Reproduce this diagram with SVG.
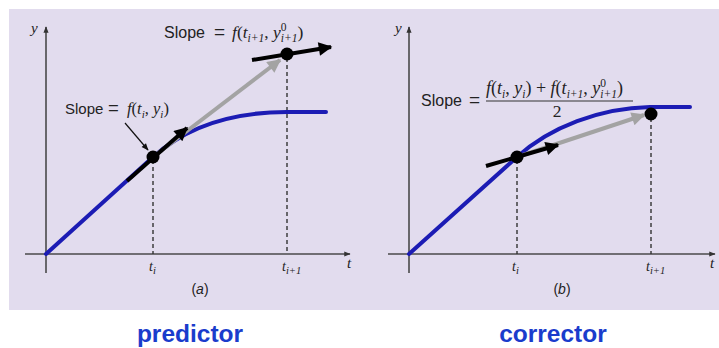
<svg xmlns="http://www.w3.org/2000/svg" width="719" height="348" viewBox="0 0 719 348">
<defs>
<style>
.axis{stroke:#4a4a4a;stroke-width:1.6;fill:none}
.curve{stroke:#1c1cb4;stroke-width:4;fill:none;stroke-linecap:round}
.tan{stroke:#000;stroke-width:4;fill:none}
.gray{stroke:#a3a3a3;stroke-width:4;fill:none}
.dash{stroke:#333;stroke-width:1.4;stroke-dasharray:4,3;fill:none}
.sans{font-family:"Liberation Sans",Arial,sans-serif;fill:#222}
.ser{font-family:"Liberation Serif","Times New Roman",serif;fill:#222}
.it{font-style:italic}
.big{font-family:"Liberation Sans",Arial,sans-serif;font-weight:bold;font-size:24.5px;fill:#1a3ccc}
</style>
<marker id="ab" viewBox="0 0 10 10" refX="9" refY="5" markerWidth="4.2" markerHeight="3.4" orient="auto" markerUnits="strokeWidth"><path d="M0,0 L10,5 L0,10 z" fill="#000"/></marker>
<marker id="ag" viewBox="0 0 10 10" refX="9" refY="5" markerWidth="4.2" markerHeight="3.4" orient="auto" markerUnits="strokeWidth"><path d="M0,0 L10,5 L0,10 z" fill="#a3a3a3"/></marker>
<marker id="ax" viewBox="0 0 10 10" refX="9" refY="5" markerWidth="5" markerHeight="4" orient="auto" markerUnits="strokeWidth"><path d="M0,1 L10,5 L0,9 z" fill="#333"/></marker>
<marker id="as" viewBox="0 0 10 10" refX="9" refY="5" markerWidth="7" markerHeight="6" orient="auto" markerUnits="strokeWidth"><path d="M0,1 L10,5 L0,9 z" fill="#111"/></marker>
</defs>
<rect x="9" y="9" width="710" height="301" fill="#e2dcee"/>

<g id="panel-a">
<g id="axes-a">
<line class="axis" x1="46" y1="273" x2="46" y2="27" marker-end="url(#ax)"/>
<line class="axis" x1="25" y1="254" x2="350" y2="254" marker-end="url(#ax)"/>
<text class="ser it" x="31" y="33" font-size="15">y</text>
<text class="ser it" x="347" y="268" font-size="15">t</text>
<text class="ser it" x="149" y="271" font-size="14">t<tspan font-size="10.5" dy="3">i</tspan></text>
<text class="ser it" x="282" y="271" font-size="14">t<tspan font-size="10.5" dy="3">i+1</tspan></text>
<text class="sans" x="200" y="294" font-size="14" text-anchor="middle">(<tspan class="it">a</tspan>)</text>
</g>
<g id="connectors-a">
<line class="dash" x1="153" y1="160" x2="153" y2="254"/>
<line class="dash" x1="287" y1="58" x2="287" y2="254"/>
<path class="curve" d="M46,254 L153,157 C185,128 230,112 287,112 L326,112"/>
<line class="gray" x1="153" y1="157" x2="280" y2="60" marker-end="url(#ag)"/>
<line class="tan" x1="127" y1="181" x2="187" y2="128" marker-end="url(#ab)"/>
<line class="tan" x1="252" y1="60" x2="331" y2="47" marker-end="url(#ab)"/>
<line stroke="#111" stroke-width="1.2" x1="125" y1="123" x2="148" y2="150" marker-end="url(#as)"/>
</g>
<g id="point-a1"><circle cx="153" cy="157" r="6.5" fill="#000"/></g>
<g id="point-a2"><circle cx="287" cy="54" r="6.5" fill="#000"/></g>
<g id="label-a1">
<text class="sans" x="65" y="114" font-size="15">Slope</text>
<text class="sans" x="108" y="114" font-size="18.5">=</text>
<text class="ser" x="127" y="114" font-size="16.5"><tspan class="it">f</tspan>(<tspan class="it">t</tspan><tspan class="it" font-size="11" dy="3.5">i</tspan><tspan dy="-3.5">, </tspan><tspan class="it">y</tspan><tspan class="it" font-size="11" dy="3.5">i</tspan><tspan dy="-3.5">)</tspan></text>
</g>
<g id="label-a2">
<text class="sans" x="164" y="38" font-size="16">Slope</text>
<text class="sans" x="214" y="38" font-size="19">=</text>
<text class="ser" x="232" y="38" font-size="17.5"><tspan class="it">f</tspan>(<tspan class="it">t</tspan><tspan class="it" font-size="11.5" dy="4">i+1</tspan><tspan dy="-4">, </tspan><tspan class="it">y</tspan><tspan font-size="11.5" dy="-7">0</tspan><tspan class="it" font-size="11.5" dx="-5.8" dy="11">i+1</tspan><tspan dy="-4">)</tspan></text>
</g>
</g>

<g id="panel-b">
<g id="axes-b">
<line class="axis" x1="409" y1="273" x2="409" y2="27" marker-end="url(#ax)"/>
<line class="axis" x1="388" y1="254" x2="715" y2="254" marker-end="url(#ax)"/>
<text class="ser it" x="395" y="33" font-size="15">y</text>
<text class="ser it" x="710" y="268" font-size="15">t</text>
<text class="ser it" x="512" y="271" font-size="14">t<tspan font-size="10.5" dy="3">i</tspan></text>
<text class="ser it" x="646" y="271" font-size="14">t<tspan font-size="10.5" dy="3">i+1</tspan></text>
<text class="sans" x="562" y="294" font-size="14" text-anchor="middle">(<tspan class="it">b</tspan>)</text>
</g>
<g id="connectors-b">
<line class="dash" x1="517" y1="160" x2="517" y2="254"/>
<line class="dash" x1="651" y1="118" x2="651" y2="254"/>
<path class="curve" d="M409,254 L517,157 C550,127 600,108 650,107 L690,107"/>
<line class="gray" x1="517" y1="157" x2="644" y2="115" marker-end="url(#ag)"/>
<line class="tan" x1="486" y1="166" x2="558" y2="145" marker-end="url(#ab)"/>
</g>
<g id="point-b1"><circle cx="517" cy="157" r="6.5" fill="#000"/></g>
<g id="point-b2"><circle cx="651" cy="114" r="6.5" fill="#000"/></g>
<g id="label-b">
<text class="sans" x="421" y="106" font-size="16">Slope</text>
<text class="sans" x="469" y="106" font-size="19">=</text>
<text class="ser" x="486" y="94" font-size="18"><tspan class="it">f</tspan>(<tspan class="it">t</tspan><tspan class="it" font-size="11.5" dy="4">i</tspan><tspan dy="-4">, </tspan><tspan class="it">y</tspan><tspan class="it" font-size="11.5" dy="4">i</tspan><tspan dy="-4">) + </tspan><tspan class="it">f</tspan>(<tspan class="it">t</tspan><tspan class="it" font-size="11.5" dy="4">i+1</tspan><tspan dy="-4">, </tspan><tspan class="it">y</tspan><tspan font-size="11.5" dy="-7">0</tspan><tspan class="it" font-size="11.5" dx="-5.8" dy="11">i+1</tspan><tspan dy="-4">)</tspan></text>
<line x1="486" y1="101" x2="633" y2="101" stroke="#333" stroke-width="1.2"/>
<text class="ser" x="557" y="117" font-size="17.5" text-anchor="middle">2</text>
</g>
</g>

<g id="captions">
<text class="big" x="190" y="342" text-anchor="middle">predictor</text>
<text class="big" x="553" y="342" text-anchor="middle">corrector</text>
</g>
</svg>
